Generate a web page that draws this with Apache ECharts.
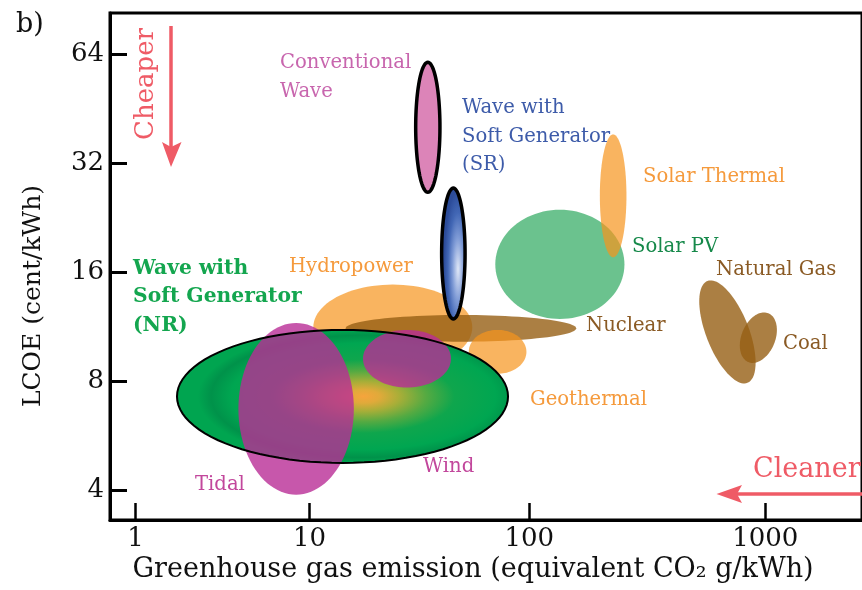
<!DOCTYPE html>
<html>
<head>
<meta charset="utf-8">
<title>LCOE vs greenhouse gas emission</title>
<script src="https://cdn.jsdelivr.net/npm/echarts@6/dist/echarts.min.js"></script>
<style>
  html, body { margin: 0; padding: 0; background: #fff; }
  #chart { width: 862px; height: 590px; }
</style>
</head>
<body>
<div id="chart"></div>
<script>
// technologies, listed back to front
var techs = ['Hydropower', 'Nuclear', 'Geothermal', 'Solar PV', 'Solar Thermal', 'Natural Gas',
             'Coal', 'Wave NR', 'Tidal', 'Wind', 'Conventional Wave', 'Wave SR'];
// emission range (equivalent CO2 g/kWh)
var emissionLow  = [10.4, 14.6, 53, 70, 199, 525, 780, 1.73, 3.9, 17.5, 30.4, 39.9];
var emissionHigh = [55, 158, 97, 253, 258, 910, 1120, 80, 15.9, 44, 39.2, 51];
// cost range (cent/kWh)
var costLow  = [8.6, 10.3, 8.4, 11.9, 17.6, 7.9, 9.0, 4.77, 3.9, 7.7, 26.6, 11.9];
var costHigh = [14.8, 12.2, 11.1, 23.8, 38.4, 15.2, 12.4, 11.1, 11.6, 11.1, 60.7, 27.3];
// long-axis direction of the tilted blobs, degrees on screen (0 = upright)
var tiltDeg = [0, 0, 0, 0, 0, 68.6, 112.2, 0, 0, 0, 0, 0];

// ticks
var xTicks = [1, 10, 100, 1000];
var yTicks = [4, 8, 16, 32, 64];
// the printed x axis is not evenly spaced: decade positions in axis units
var xTickPos = [0, 1, 2.263, 3.619];
var xRange = [0.713, 2570];
var yRange = [3.32, 83];

function xu(v) {
    var L = Math.log10(v);
    var i = Math.floor(L);
    if (i < 0) i = 0;
    if (i > xTickPos.length - 2) i = xTickPos.length - 2;
    return xTickPos[i] + (L - i) * (xTickPos[i + 1] - xTickPos[i]);
}

var colors = {
    'Hydropower': 'rgba(247,148,29,0.7)',
    'Nuclear': 'rgba(150,95,20,0.8)',
    'Geothermal': 'rgba(247,148,29,0.7)',
    'Solar PV': 'rgba(0,150,60,0.58)',
    'Solar Thermal': 'rgba(247,148,29,0.7)',
    'Natural Gas': 'rgba(150,95,20,0.8)',
    'Coal': 'rgba(150,95,20,0.8)',
    'Tidal': 'rgba(185,45,150,0.8)',
    'Wind': 'rgba(185,45,150,0.8)',
    'Conventional Wave': '#dc84b8'
};
var outlined = { 'Wave NR': 2, 'Conventional Wave': 3.5, 'Wave SR': 3.5 };

var nrFill = {
    type: 'radial', x: 0.563, y: 0.5, r: 0.5,
    colorStops: [
        { offset: 0, color: '#f6a43c' },
        { offset: 0.1, color: '#e0aa3a' },
        { offset: 0.22, color: '#a8ae38' },
        { offset: 0.38, color: '#55aa42' },
        { offset: 0.55, color: '#0fa64d' },
        { offset: 0.8, color: '#00a651' },
        { offset: 0.92, color: '#00924a' },
        { offset: 1, color: '#00a550' }
    ]
};
var srFill = {
    type: 'radial', x: 0.7, y: 0.62, r: 0.6,
    colorStops: [
        { offset: 0, color: '#dfe7f7' },
        { offset: 0.4, color: '#7f9bd6' },
        { offset: 0.72, color: '#4267b5' },
        { offset: 1, color: '#2c4c9a' }
    ]
};

var blobData = techs.map(function (n, i) {
    return [xu(emissionLow[i]), Math.log2(costLow[i]), xu(emissionHigh[i]), Math.log2(costHigh[i])];
});

function geom(params, api) {
    var i = params.dataIndex;
    var p1 = api.coord([api.value(0), api.value(1)]);
    var p2 = api.coord([api.value(2), api.value(3)]);
    var g = {
        cx: (p1[0] + p2[0]) / 2, cy: (p1[1] + p2[1]) / 2,
        a: Math.abs(p2[0] - p1[0]) / 2, b: Math.abs(p2[1] - p1[1]) / 2, th: 0
    };
    if (tiltDeg[i]) {
        var W = g.a, H = g.b, th = tiltDeg[i] * Math.PI / 180;
        var S = W * W + H * H, D = (W * W - H * H) / Math.cos(2 * th);
        g.a = Math.sqrt((S + D) / 2);
        g.b = Math.sqrt(Math.max((S - D) / 2, 1));
        g.th = th;
    }
    var pts = [];
    for (var k = 0; k < 96; k++) {
        var t = k / 96 * Math.PI * 2;
        var ex = g.a * Math.cos(t), ey = g.b * Math.sin(t);
        pts.push([g.cx + ex * Math.cos(g.th) - ey * Math.sin(g.th),
                  g.cy + ex * Math.sin(g.th) + ey * Math.cos(g.th)]);
    }
    g.points = pts;
    return g;
}

function renderBlob(params, api) {
    var name = techs[params.dataIndex];
    var g = geom(params, api);
    if (name === 'Wave NR' || name === 'Wave SR') {
        var kids = [{
            type: 'circle', x: g.cx, y: g.cy, scaleX: g.a / g.b,
            shape: { cx: 0, cy: 0, r: g.b },
            style: { fill: name === 'Wave NR' ? nrFill : srFill }
        }];
        if (name === 'Wave SR') {
            kids.push({ type: 'polygon', shape: { points: g.points },
                style: { fill: null, stroke: '#000', lineWidth: outlined[name] } });
        }
        return { type: 'group', children: kids };
    }
    var st = { fill: colors[name] };
    if (outlined[name]) { st.stroke = '#000'; st.lineWidth = outlined[name]; }
    return { type: 'polygon', shape: { points: g.points }, style: st };
}

function renderOutline(params, api) {
    if (techs[params.dataIndex] !== 'Wave NR') return null;
    var g = geom(params, api);
    return { type: 'polygon', shape: { points: g.points },
        style: { fill: null, stroke: '#000', lineWidth: outlined['Wave NR'] } };
}

var serif = 'DejaVu Serif';
var red = '#ef5b66';
function label(text, x, y, color, size, bold) {
    return {
        type: 'text', x: x, y: y, z: 100,
        style: {
            text: text, fill: color, fontFamily: serif, fontSize: size || 19.6,
            fontWeight: bold ? 'bold' : 'normal', lineHeight: 28.5,
            align: 'left', verticalAlign: 'top', textAlign: 'left', textVerticalAlign: 'top'
        }
    };
}

var chart = echarts.init(document.getElementById('chart'));
chart.setOption({
    animation: false,
    backgroundColor: '#fff',
    grid: { left: 110, right: -4, top: 13, bottom: 70, show: true, borderColor: '#000', borderWidth: 3 },
    xAxis: {
        type: 'value', min: xu(xRange[0]), max: xu(xRange[1]),
        splitLine: { show: false },
        axisLine: { onZero: false, lineStyle: { color: '#000', width: 3 } },
        axisTick: { inside: true, length: 17, customValues: xTickPos, lineStyle: { color: '#000', width: 2.5 } },
        axisLabel: {
            customValues: xTickPos, margin: 6, color: '#111', fontFamily: serif, fontSize: 26,
            formatter: function (v) {
                for (var i = 0; i < xTickPos.length; i++) {
                    if (Math.abs(xTickPos[i] - v) < 1e-6) return String(xTicks[i]);
                }
                return '';
            }
        },
        name: 'Greenhouse gas emission (equivalent CO\u2082 g/kWh)',
        nameLocation: 'middle', nameGap: 35,
        nameTextStyle: { color: '#111', fontFamily: serif, fontSize: 27, padding: [0, 26, 0, 0] }
    },
    yAxis: {
        type: 'value', min: Math.log2(yRange[0]), max: Math.log2(yRange[1]),
        splitLine: { show: false },
        axisLine: { onZero: false, lineStyle: { color: '#000', width: 3 } },
        axisTick: { inside: true, length: 17, customValues: yTicks.map(Math.log2), lineStyle: { color: '#000', width: 3 } },
        axisLabel: {
            customValues: yTicks.map(Math.log2), margin: 6, color: '#111', fontFamily: serif, fontSize: 26,
            formatter: function (v) { return String(Math.round(Math.pow(2, v))); }
        },
        name: 'LCOE (cent/kWh)',
        nameLocation: 'middle', nameGap: 64,
        nameTextStyle: { color: '#111', fontFamily: serif, fontSize: 25, padding: [0, 59, 0, 0] }
    },
    series: [
        { type: 'custom', name: 'ranges', renderItem: renderBlob, data: blobData, z: 2 },
        { type: 'custom', name: 'outline', renderItem: renderOutline, data: blobData, z: 3 }
    ],
    graphic: [
        label('b)', 16, 11, '#111', 27),
        label('Conventional\nWave', 280, 49, '#c866ae'),
        label('Wave with\nSoft Generator\n(SR)', 462, 94, '#3d5ba9'),
        label('Solar Thermal', 643, 163, '#f59a3c'),
        label('Solar PV', 632, 233, '#16894a'),
        label('Natural Gas', 716, 256, '#8a5a24'),
        label('Hydropower', 289, 253, '#f59a3c'),
        label('Wave with\nSoft Generator\n(NR)', 133, 254, '#14a64f', 20.3, true),
        label('Nuclear', 586, 312, '#8a5a24'),
        label('Coal', 783, 330, '#8a5a24'),
        label('Geothermal', 530, 386, '#f59a3c'),
        label('Wind', 423, 453, '#c2479c'),
        label('Tidal', 195, 471, '#c2479c'),
        {
            type: 'text', x: 146, y: 84, rotation: Math.PI / 2, z: 100,
            style: { text: 'Cheaper', fill: red, fontFamily: serif, fontSize: 26,
                align: 'center', verticalAlign: 'middle', textAlign: 'center', textVerticalAlign: 'middle' }
        },
        { type: 'line', z: 100, shape: { x1: 171, y1: 26, x2: 171, y2: 150 }, style: { stroke: red, lineWidth: 3.5 } },
        { type: 'polygon', z: 100, shape: { points: [[162, 142], [171, 147], [181.5, 142], [171, 167]] }, style: { fill: red } },
        {
            type: 'text', x: 753, y: 470, z: 100,
            style: { text: 'Cleaner', fill: red, fontFamily: serif, fontSize: 27,
                align: 'left', verticalAlign: 'middle', textAlign: 'left', textVerticalAlign: 'middle' }
        },
        { type: 'line', z: 100, shape: { x1: 735, y1: 494, x2: 870, y2: 494 }, style: { stroke: red, lineWidth: 3.5 } },
        { type: 'polygon', z: 100, shape: { points: [[716.5, 494], [742, 485], [737, 494], [742, 503]] }, style: { fill: red } }
    ]
});
</script>
</body>
</html>
